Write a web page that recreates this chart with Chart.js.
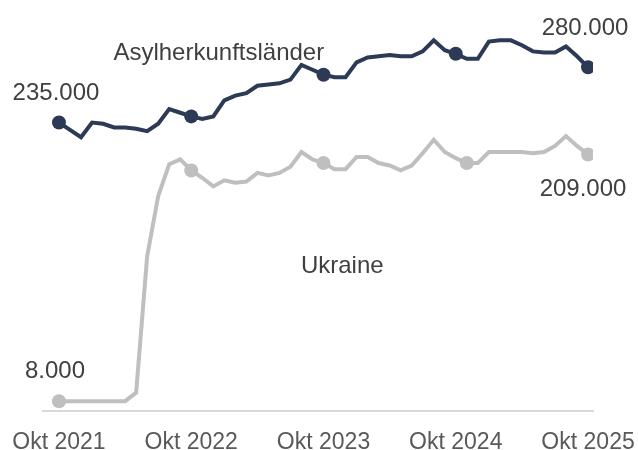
<!DOCTYPE html>
<html>
<head>
<meta charset="utf-8">
<script src="https://cdn.jsdelivr.net/npm/chart.js@4.4.1/dist/chart.umd.min.js"></script>
<style>
  html, body { margin: 0; padding: 0; background: #fff; }
  #wrap { width: 638px; height: 450px; }
</style>
</head>
<body>
<div id="wrap"><canvas id="chart"></canvas></div>
<script>
// Monatswerte Okt 2021 - Okt 2025
const months = ['Jan', 'Feb', 'Mär', 'Apr', 'Mai', 'Jun', 'Jul', 'Aug', 'Sep', 'Okt', 'Nov', 'Dez'];
const categories = [];
for (let i = 0; i < 49; i++) {
  const m = (9 + i) % 12;
  const year = 2021 + Math.floor((9 + i) / 12);
  categories.push(months[m] + ' ' + year);
}
const tickIndexes = [0, 12, 24, 36, 48];

const seriesNames = ['Asylherkunftsländer', 'Ukraine'];

const asylValues = [235000, 229000, 223000, 235000, 234000, 231000, 231000, 230000, 228000, 234000,
  246000, 243000, 240000, 238000, 240000, 253000, 257000, 259000, 265000, 266000,
  267000, 270000, 282000, 278000, 274000, 272000, 272000, 284000, 288000, 289000,
  290000, 289000, 289000, 293000, 302000, 294000, 291000, 287000, 287000, 301000,
  302000, 302000, 298000, 293000, 292000, 292000, 297000, 289000, 280000];

const ukraineValues = [8000, 8000, 8000, 8000, 8000, 8000, 8000, 15000, 126000, 175000,
  201000, 205000, 196000, 190000, 183000, 188000, 186000, 187000, 194000, 192000,
  194000, 199000, 211000, 205000, 202000, 197000, 197000, 207000, 207000, 202000,
  200000, 196000, 200000, 210000, 221000, 211000, 206000, 202000, 202000, 211000,
  211000, 211000, 211000, 210000, 211000, 216000, 224000, 216000, 209000];

// Punkte mit Markierung
const asylMarkers = [0, 12, 24, 36, 48];
const ukraineMarkers = [0, 12, 24, 37, 48];

const DARK = '#2c3a55';
const GREY = '#bfbfbf';
const TEXT = '#404040';
const FONT = '"Liberation Sans", Arial, sans-serif';

function fmt(v) {
  return String(v).replace(/\B(?=(\d{3})+(?!\d))/g, '.');
}

function points(values) {
  return values.map(function(v, i) { return { x: i, y: v }; });
}

function radii(markers, n) {
  const r = [];
  for (let i = 0; i < n; i++) r.push(markers.indexOf(i) >= 0 ? 7 : 0);
  return r;
}

const labelPlugin = {
  id: 'labels',
  afterDatasetsDraw(chart) {
    const ctx = chart.ctx;
    const xs = chart.scales.x, ys = chart.scales.y;
    ctx.save();
    ctx.font = '24px ' + FONT;
    ctx.fillStyle = TEXT;
    ctx.textAlign = 'center';
    ctx.textBaseline = 'middle';

    // Werte am Anfang und Ende
    const valueLabels = [
      { ds: 0, i: 0, dx: -3, dy: -29 },
      { ds: 0, i: 48, dx: -3, dy: -39 },
      { ds: 1, i: 0, dx: -4, dy: -30 },
      { ds: 1, i: 48, dx: -5, dy: 35 }
    ];
    valueLabels.forEach(function(l) {
      const el = chart.getDatasetMeta(l.ds).data[l.i];
      const v = chart.data.datasets[l.ds].data[l.i].y;
      ctx.fillText(fmt(v), el.x + l.dx, el.y + l.dy);
    });

    // Reihennamen
    ctx.fillText(seriesNames[0], xs.getPixelForValue(14.5), ys.getPixelForValue(291500));
    ctx.fillText(seriesNames[1], xs.getPixelForValue(25.7), ys.getPixelForValue(117500));
    ctx.restore();
  }
};

new Chart(document.getElementById('chart'), {
  type: 'line',
  data: {
    datasets: [
      {
        label: seriesNames[0],
        data: points(asylValues),
        borderColor: DARK,
        backgroundColor: DARK,
        borderWidth: 4,
        pointRadius: radii(asylMarkers, asylValues.length),
        pointBorderWidth: 0,
        tension: 0
      },
      {
        label: seriesNames[1],
        data: points(ukraineValues),
        borderColor: GREY,
        backgroundColor: GREY,
        borderWidth: 4,
        pointRadius: radii(ukraineMarkers, ukraineValues.length),
        pointBorderWidth: 0,
        tension: 0
      }
    ]
  },
  options: {
    responsive: true,
    maintainAspectRatio: false,
    animation: false,
    layout: { padding: { left: 43, right: 45, top: 17, bottom: 0 } },
    plugins: {
      legend: { display: false },
      tooltip: { enabled: false }
    },
    scales: {
      x: {
        type: 'linear',
        min: -1.45,
        max: 48.45,
        afterBuildTicks: function(scale) {
          scale.ticks = tickIndexes.map(function(v) { return { value: v }; });
        },
        afterFit: function(scale) {
          // Beschriftungen duerfen in den Rand ragen
          scale.paddingLeft = 0;
          scale.paddingRight = 0;
          scale.height = 39;
        },
        grid: { display: false, drawTicks: false },
        border: { display: true, color: '#d9d9d9', width: 2 },
        ticks: {
          autoSkip: false,
          maxRotation: 0,
          padding: 18,
          color: '#595959',
          font: { family: FONT, size: 23 },
          callback: function(v) { return categories[v]; }
        }
      },
      y: {
        display: false,
        min: 0,
        max: 321000
      }
    }
  },
  plugins: [labelPlugin]
});
</script>
</body>
</html>
